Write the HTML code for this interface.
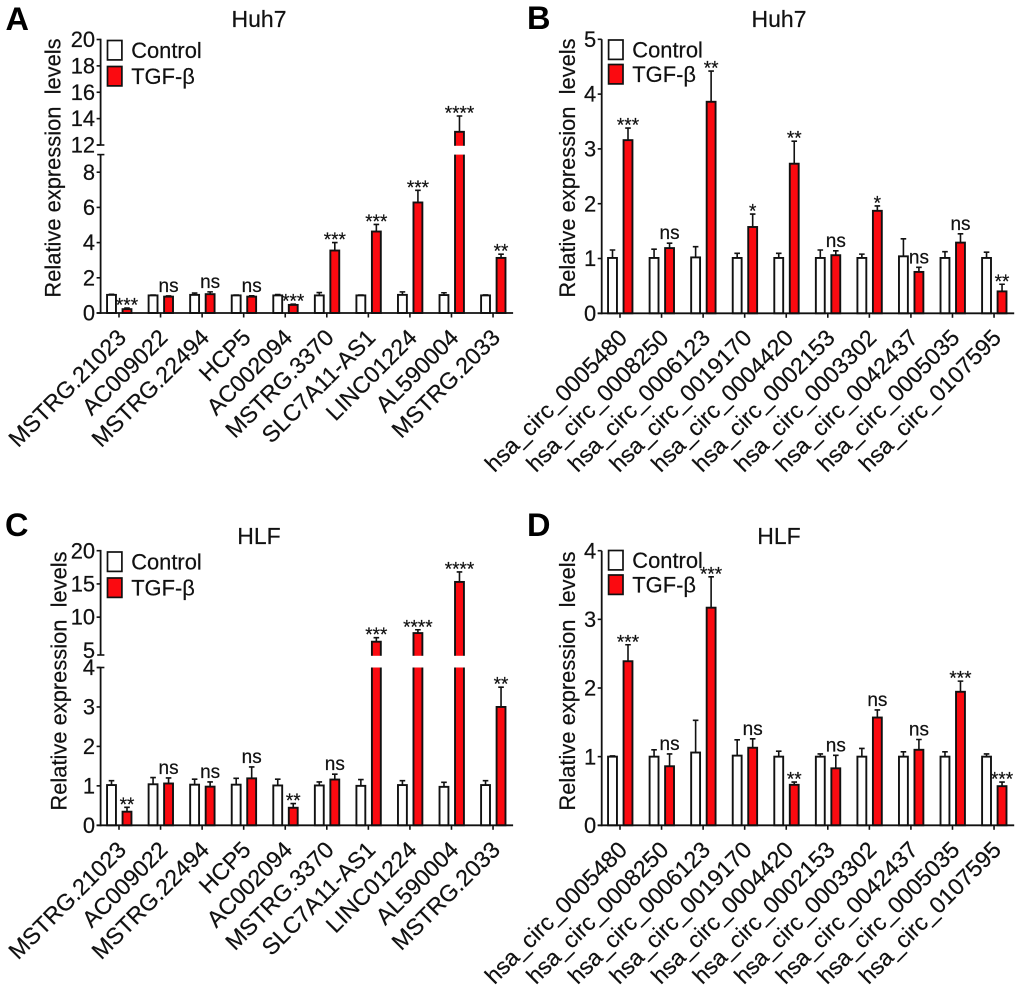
<!DOCTYPE html>
<html lang="en">
<head>
<meta charset="utf-8">
<title>Relative expression levels in Huh7 and HLF cells</title>
<style>
html,body{margin:0;padding:0;background:#fff;width:1020px;height:987px;overflow:hidden}
svg{display:block}
text{font-family:"Liberation Sans",Arial,sans-serif;fill:#111;font-size:21.9px;stroke:#111;stroke-width:.2px}
.title{font-size:23px;text-anchor:middle}
.letter{font-size:32.5px;font-weight:bold;fill:#000;stroke:none}
.sig{font-size:19px;text-anchor:middle}
.tick-label{text-anchor:end}
.x-label{font-size:23.2px}
.y-title{text-anchor:middle;white-space:pre}
</style>
</head>
<body>
<svg id="figure" xmlns="http://www.w3.org/2000/svg" width="1020" height="987" viewBox="0 0 1020 987">
<rect width="1020" height="987" fill="#fff"/>
</svg>
<script>
const lncCategoriesA = ['MSTRG.21023','AC009022','MSTRG.22494','HCP5','AC002094','MSTRG.3370','SLC7A11-AS1','LINC01224','AL590004','MSTRG.2033'];
const controlA = [1.03,1,1.03,1,1,1,1,1.03,1.02,1];
const controlErrA = [.03,.02,.1,.02,.05,.16,.02,.17,.13,.03];
const tgfA = [.22,.93,1.07,.93,.46,3.55,4.63,6.28,13,3.13];
const tgfErrA = [.06,.04,.13,.05,.04,.45,.4,.69,1.2,.21];
const sigA = ['***','ns','ns','ns','***','***','***','***','****','**'];
const lowerTicksA = [0,2,4,6,8];
const upperTicksA = [12,14,16,18,20];

const circCategories = ['hsa_circ_0005480','hsa_circ_0008250','hsa_circ_0006123','hsa_circ_0019170','hsa_circ_0004420','hsa_circ_0002153','hsa_circ_0003302','hsa_circ_0042437','hsa_circ_0005035','hsa_circ_0107595'];
const controlB = [1.01,1.01,1.02,1.01,1.01,1.01,1.01,1.04,1.01,1.01];
const controlErrB = [.145,.16,.195,.085,.085,.145,.07,.32,.115,.105];
const tgfB = [3.16,1.19,3.86,1.575,2.73,1.06,1.87,.755,1.29,.40];
const tgfErrB = [.22,.09,.56,.235,.41,.08,.09,.085,.16,.13];
const sigB = ['***','ns','**','*','**','ns','*','ns','ns','**'];
const ticksB = [0,1,2,3,4,5];

const lncCategoriesC = ['MSTRG.21023','AC009022','MSTRG.22494','HCP5','AC002094','MSTRG.3370','SLC7A11-AS1','LINC01224','AL590004','MSTRG.2033'];
const controlC = [1.02,1.04,1.03,1.03,1.01,1.01,1,1.02,.975,1.02];
const controlErrC = [.11,.17,.14,.16,.16,.09,.16,.11,.115,.11];
const tgfC = [.345,1.06,.98,1.19,.445,1.16,6.3,7.6,15.3,3.0];
const tgfErrC = [.11,.14,.12,.29,.105,.135,.6,.5,1.5,.5];
const sigC = ['**','ns','ns','ns','**','ns','***','****','****','**'];
const lowerTicksC = [0,1,2,3,4];
const upperTicksC = [5,10,15,20];

const controlD = [1,1,1.06,1.015,1,1,1,1,1,1];
const controlErrD = [.01,.1,.47,.23,.08,.04,.12,.07,.07,.04];
const tgfD = [2.39,.86,3.17,1.13,.59,.83,1.57,1.10,1.945,.57];
const tgfErrD = [.24,.18,.45,.13,.04,.19,.11,.15,.155,.06];
const sigD = ['***','ns','***','ns','**','ns','ns','ns','***','***'];
const ticksD = [0,1,2,3,4];

const SVG_NS = 'http://www.w3.org/2000/svg';
const figure = document.getElementById('figure');
const INK = '#111';
const RED = '#fb0a10';

function make(parent, tag, attrs, content) {
  const el = document.createElementNS(SVG_NS, tag);
  for (const key in attrs) el.setAttribute(key, attrs[key]);
  if (content !== undefined) el.textContent = content;
  parent.appendChild(el);
  return el;
}

function makeYScale(lower, upper) {
  const lowerFn = v => lower.r0 + (v - lower.d0) * (lower.r1 - lower.r0) / (lower.d1 - lower.d0);
  if (!upper) return lowerFn;
  const upperFn = v => upper.r0 + (v - upper.d0) * (upper.r1 - upper.r0) / (upper.d1 - upper.d0);
  return v => (v <= lower.d1 ? lowerFn(v) : v >= upper.d0 ? upperFn(v) : lower.r1);
}

function drawPanel(p) {
  const g = make(figure, 'g', {});
  
  
  const y = makeYScale(p.lower, p.upper);
  const xTick = i => p.x0 + i * 41.56;
  const base = p.lower.r0;

  const letter = make(g, 'text', {class: 'letter', x: p.letterX, y: p.letterY}, p.letter);
  
  

  const title = make(g, 'text', {class: 'title', x: p.titleX, y: p.titleY}, p.title);
  
  

  const yTitle = make(g, 'text', {class: 'y-title', transform: 'translate(' + p.yTitleX + ',' + p.yTitleY + ') rotate(-90)'}, 'Relative expression  levels');
  
  

  const series = [
    {name: 'control', values: p.control, errs: p.controlErr, dx: -7.5, fill: '#fff'},
    {name: 'tgf-beta', values: p.tgf, errs: p.tgfErr, dx: 8, fill: RED}
  ];
  series.forEach(s => {
    s.values.forEach((v, i) => {
      const cx = xTick(i) + s.dx;
      const top = y(v);
      const errTop = y(v + s.errs[i]);

      const stem = make(g, 'path', {d: 'M' + cx + ' ' + top + 'V' + errTop + 'M' + (cx - 2.8) + ' ' + errTop + 'H' + (cx + 2.8), fill: 'none', stroke: INK, 'stroke-width': 1.6});
      
      

      const bar = make(g, 'rect', {x: cx - 4.45, y: top, width: 8.9, height: Math.max(0, base - top), fill: s.fill, stroke: INK, 'stroke-width': 1.9});
      
      

      if (p.upper && top < p.lower.r1 - 1) {
        const gap = make(g, 'rect', {x: cx - 6.5, y: p.upper.r0 + 0.8, width: 13, height: p.lower.r1 - p.upper.r0 - 0.8, fill: '#fff'});
        
        
      }
    });
  });

  p.tgf.forEach((v, i) => {
    const label = p.sig[i];
    const errTop = y(v + p.tgfErr[i]);
    const sig = make(g, 'text', {class: 'sig', x: xTick(i) + 8, y: label === 'ns' ? errTop - 4 : errTop + 3.5}, label);
    
    
  });

  const axisLeft = p.axisX - 4;
  const xAxis = make(g, 'line', {x1: axisLeft, x2: p.axisX + 412.5, y1: base, y2: base, stroke: INK, 'stroke-width': 1.8});
  
  

  p.categories.forEach((name, i) => {
    const tick = make(g, 'line', {x1: xTick(i), x2: xTick(i), y1: base, y2: base + 4.5, stroke: INK, 'stroke-width': 1.6});
    
    

    const label = make(g, 'text', {class: 'tick-label x-label', transform: 'translate(' + (xTick(i) + 8.5) + ',' + (base + 26) + ') rotate(-45)'}, name);
    
    
  });

  const yLower = make(g, 'line', {x1: p.axisX, x2: p.axisX, y1: base + 0.9, y2: p.lower.r1, stroke: INK, 'stroke-width': 1.8});
  
  

  if (p.upper) {
    const yUpper = make(g, 'line', {x1: p.axisX, x2: p.axisX, y1: p.upper.r0, y2: p.upper.r1 - 0.8, stroke: INK, 'stroke-width': 1.8});
    
    

    [p.upper.r0, p.lower.r1].forEach(py => {
      const mark = make(g, 'line', {x1: p.axisX - 3.4, x2: p.axisX + 3.8, y1: py, y2: py, stroke: INK, 'stroke-width': 1.6});
      
      
    });
  }

  p.ticks.forEach(v => {
    const py = y(v);
    if (v !== p.bareTick) {
      const tick = make(g, 'line', {x1: p.axisX - 4, x2: p.axisX, y1: py, y2: py, stroke: INK, 'stroke-width': 1.6});
      
      
    }
    const label = make(g, 'text', {class: 'tick-label', x: p.axisX - 5.5, y: py + 7.6}, String(v));
    
    
  });

  const legend = make(g, 'g', {});
  
  

  const box1 = make(legend, 'rect', {x: p.axisX + 6.9, y: p.legendY1, width: 14.4, height: 19.4, fill: '#fff', stroke: INK, 'stroke-width': 1.7});
  
  

  const text1 = make(legend, 'text', {x: p.axisX + 30.6, y: p.legendY1 + 17.6}, 'Control');
  
  

  const box2 = make(legend, 'rect', {x: p.axisX + 6.9, y: p.legendY2, width: 14.4, height: 19.4, fill: RED, stroke: INK, 'stroke-width': 1.7});
  
  

  const text2 = make(legend, 'text', {x: p.axisX + 30.6, y: p.legendY2 + 17.6}, 'TGF-β');
  
  
}

drawPanel({
  letter: 'A', letterX: 5.5, letterY: 30, title: 'Huh7', titleX: 259, titleY: 27,
  yTitleX: 60.7, yTitleY: 168, axisX: 100.6, x0: 119,
  lower: {d0: 0, d1: 9, r0: 313, r1: 154.6}, upper: {d0: 12, d1: 20, r0: 145, r1: 39.5},
  ticks: lowerTicksA.concat(upperTicksA), categories: lncCategoriesA,
  control: controlA, controlErr: controlErrA, tgf: tgfA, tgfErr: tgfErrA, sig: sigA,
  legendY1: 40.5, legendY2: 66.5
});
drawPanel({
  letter: 'B', letterX: 527, letterY: 29, title: 'Huh7', titleX: 779, titleY: 27,
  yTitleX: 575, yTitleY: 168, axisX: 601.7, x0: 620,
  lower: {d0: 0, d1: 5, r0: 313.3, r1: 39.3},
  ticks: ticksB, categories: circCategories,
  control: controlB, controlErr: controlErrB, tgf: tgfB, tgfErr: tgfErrB, sig: sigB,
  legendY1: 40, legendY2: 64.5
});
drawPanel({
  letter: 'C', letterX: 5, letterY: 536, title: 'HLF', titleX: 259, titleY: 544,
  yTitleX: 66.7, yTitleY: 681, axisX: 100.6, x0: 119,
  lower: {d0: 0, d1: 4, r0: 825.3, r1: 667.5}, upper: {d0: 4.3, d1: 20, r0: 655, r1: 550.7},
  ticks: lowerTicksC.concat(upperTicksC), bareTick: 5, categories: lncCategoriesC,
  control: controlC, controlErr: controlErrC, tgf: tgfC, tgfErr: tgfErrC, sig: sigC,
  legendY1: 552, legendY2: 578
});
drawPanel({
  letter: 'D', letterX: 527, letterY: 536, title: 'HLF', titleX: 779, titleY: 544,
  yTitleX: 575, yTitleY: 681, axisX: 601.7, x0: 620,
  lower: {d0: 0, d1: 4, r0: 825.3, r1: 550.7},
  ticks: ticksD, categories: circCategories,
  control: controlD, controlErr: controlErrD, tgf: tgfD, tgfErr: tgfErrD, sig: sigD,
  legendY1: 550.5, legendY2: 575
});
</script>
</body>
</html>
